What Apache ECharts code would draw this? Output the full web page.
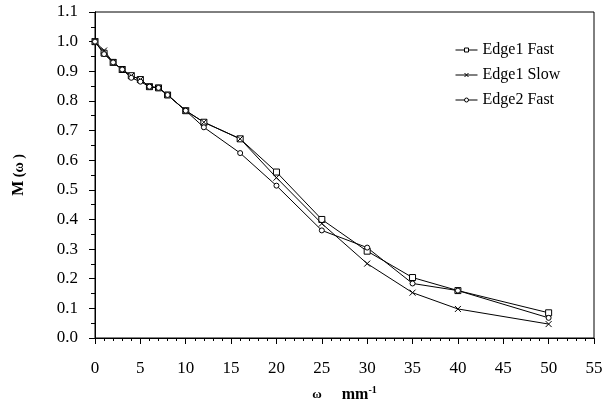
<!DOCTYPE html>
<html>
<head>
<meta charset="utf-8">
<script src="https://cdn.jsdelivr.net/npm/echarts@6/dist/echarts.min.js"></script>
<style>
  html, body { margin: 0; padding: 0; background: #fff; }
  #chart { width: 613px; height: 409px; }
</style>
</head>
<body>
<div id="chart"></div>
<script>
// spatial frequency, mm^-1
const omega = [0, 1, 2, 3, 4, 5, 6, 7, 8, 10, 12, 16, 20, 25, 30, 35, 40, 50];
const edge1Fast = [1.0, 0.961, 0.93, 0.906, 0.885, 0.872, 0.848, 0.844, 0.82, 0.767, 0.728, 0.672, 0.56, 0.40, 0.293, 0.204, 0.16, 0.085];
const edge1Slow = [1.0, 0.97, 0.93, 0.906, 0.885, 0.872, 0.848, 0.844, 0.82, 0.767, 0.728, 0.672, 0.541, 0.386, 0.251, 0.153, 0.098, 0.047];
const edge2Fast = [1.0, 0.958, 0.93, 0.906, 0.878, 0.865, 0.848, 0.844, 0.82, 0.767, 0.711, 0.624, 0.514, 0.363, 0.305, 0.184, 0.16, 0.068];

const font = 'Liberation Serif, Times New Roman, serif';
const pairs = ys => omega.map((x, i) => [x, ys[i]]);
const crossPath = 'path://M0,0L10,10M10,0L0,10';

const chart = echarts.init(document.getElementById('chart'));

const lineSeries = (name, ys, symbol, size) => ({
  name,
  type: 'line',
  data: pairs(ys),
  symbol,
  symbolSize: size,
  showAllSymbol: true,
  lineStyle: { color: '#000', width: 1 },
  itemStyle: { color: '#fff', borderColor: '#000', borderWidth: 1 },
  emphasis: { disabled: true },
  animation: false
});

const xBase = {
  type: 'value', min: 0, max: 55, interval: 5,
  axisLine: { lineStyle: { color: '#000', width: 1 } },
  splitLine: { show: false }
};
const yBase = {
  type: 'value', min: 0, max: 1.1, interval: 0.1,
  axisLine: { lineStyle: { color: '#000', width: 1 } },
  splitLine: { show: false }
};
const bold = { fontFamily: font, fontWeight: 'bold', color: '#000' };

chart.setOption({
  backgroundColor: '#fff',
  animation: false,
  grid: {
    left: 95, right: 19, top: 12, bottom: 71,
    show: true, borderColor: '#000', borderWidth: 1, backgroundColor: 'transparent'
  },
  legend: {
    orient: 'vertical',
    left: 450, top: 37,
    itemWidth: 22, itemHeight: 5, itemGap: 9,
    itemStyle: { borderWidth: 1 },
    lineStyle: { width: 1 },
    textStyle: { fontFamily: font, fontSize: 16, color: '#000' },
    data: ['Edge1 Fast', 'Edge1 Slow', 'Edge2 Fast']
  },
  xAxis: [
    Object.assign({}, xBase, {
      name: '{w|ω}      {u|mm}{s|-1}',
      nameLocation: 'middle',
      nameGap: 47,
      nameTextStyle: {
        rich: {
          w: Object.assign({ fontSize: 13 }, bold),
          u: Object.assign({ fontSize: 16 }, bold),
          s: Object.assign({ fontSize: 10, verticalAlign: 'top', padding: [0, 0, 10, 0] }, bold)
        }
      },
      axisTick: { show: true, inside: false, length: 6, lineStyle: { color: '#000' } },
      axisLabel: { fontFamily: font, fontSize: 17, color: '#000', margin: 22 }
    }),
    Object.assign({}, xBase, {
      axisTick: { show: true, inside: true, length: 6, lineStyle: { color: '#000' } },
      minorTick: { show: true, splitNumber: 5, length: 3, lineStyle: { color: '#000' } },
      axisLabel: { show: false }
    })
  ],
  yAxis: [
    Object.assign({}, yBase, {
      name: '{m|M}{w| (ω )}',
      nameLocation: 'middle',
      nameGap: 68,
      nameRotate: 90,
      nameTextStyle: {
        rich: {
          m: Object.assign({ fontSize: 16 }, bold),
          w: Object.assign({ fontSize: 14 }, bold)
        }
      },
      axisTick: { show: true, inside: false, length: 6, lineStyle: { color: '#000' } },
      axisLabel: {
        fontFamily: font, fontSize: 17, color: '#000', margin: 17,
        formatter: v => v.toFixed(1)
      }
    }),
    Object.assign({}, yBase, {
      axisTick: { show: true, inside: true, length: 6, lineStyle: { color: '#000' } },
      minorTick: { show: true, splitNumber: 2, length: 4, lineStyle: { color: '#000' } },
      axisLabel: { show: false }
    })
  ],
  series: [
    lineSeries('Edge1 Fast', edge1Fast, 'rect', 6),
    lineSeries('Edge1 Slow', edge1Slow, crossPath, 6),
    lineSeries('Edge2 Fast', edge2Fast, 'circle', 5)
  ]
});
</script>
</body>
</html>
